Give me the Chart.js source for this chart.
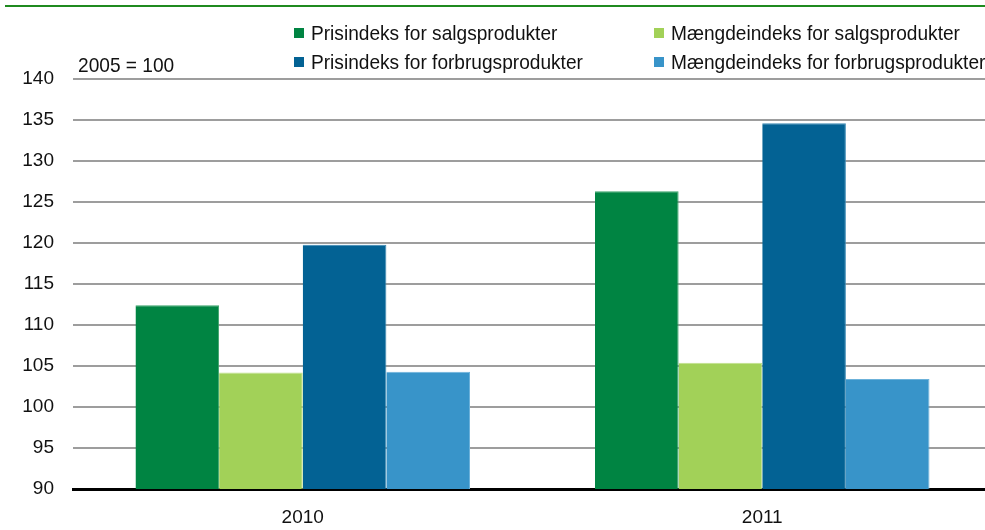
<!DOCTYPE html>
<html>
<head>
<meta charset="utf-8">
<script src="https://cdn.jsdelivr.net/npm/chart.js@4"></script>
<style>
  html, body { margin:0; padding:0; width:985px; height:530px; overflow:hidden; background:#fff; }
  body { position:relative; font-family:"Liberation Sans",Arial,sans-serif; color:#111; }
  #wrap { position:absolute; left:0; top:0; width:992px; height:530px; }
  #topline { position:absolute; left:5px; top:5px; width:980px; height:2px; background:#1f8a1f; }
  .leg { position:absolute; width:330px; height:24px; }
  .leg span.box { position:absolute; left:-17px; top:7px; width:10px; height:10px; }
  .leg span.txt, #base { position:absolute; left:0; top:0; font-size:21px; line-height:24px; white-space:nowrap; transform:scaleX(0.91); transform-origin:0 50%; }
  #base { left:78px; top:53px; }
</style>
</head>
<body>
<div id="topline"></div>
<div id="wrap"><canvas id="c" width="992" height="530"></canvas></div>
<div id="base">2005 = 100</div>
<div id="legend"></div>
<script>
const categories = ["2010", "2011"];
const seriesNames = [
  "Prisindeks for salgsprodukter",
  "Mængdeindeks for salgsprodukter",
  "Prisindeks for forbrugsprodukter",
  "Mængdeindeks for forbrugsprodukter"
];
const prisSalg = [112.4, 126.3];
const maengdeSalg = [104.2, 105.4];
const prisForbrug = [119.8, 134.6];
const maengdeForbrug = [104.3, 103.4];
const yTicks = [90, 95, 100, 105, 110, 115, 120, 125, 130, 135, 140];

const colors = ["#008442", "#a2d158", "#036294", "#3894c9"];
const borders = ["#3aa36a", "#c0e08c", "#3a88b4", "#6cb2da"];
const values = [prisSalg, maengdeSalg, prisForbrug, maengdeForbrug];

const FONT = "'Liberation Sans',Arial,sans-serif";

const chart = new Chart(document.getElementById('c'), {
  type: 'bar',
  data: {
    labels: categories,
    datasets: seriesNames.map((n, i) => ({
      label: n,
      data: values[i],
      backgroundColor: colors[i],
      borderColor: borders[i],
      borderWidth: {top:1, right:1, left:0, bottom:0},
      borderSkipped: 'bottom',
      categoryPercentage: 0.728,
      barPercentage: 1.0
    }))
  },
  options: {
    responsive: false,
    animation: false,
    devicePixelRatio: 1,
    layout: { padding: { top: 79, left: 0, right: 0, bottom: 0 } },
    plugins: { legend: { display: false }, tooltip: { enabled: false } },
    scales: {
      x: {
        grid: { display: false, drawTicks: false },
        border: { display: true, color: '#000', width: 3 },
        ticks: { color: '#111', font: { family: FONT, size: 19 }, padding: 17 },
        afterFit: s => { s.height = 41; }
      },
      y: {
        min: yTicks[0], max: yTicks[yTicks.length - 1],
        afterBuildTicks: s => { s.ticks = yTicks.map(v => ({ value: v })); },
        grid: { color: '#9d9d9d', lineWidth: 2, drawTicks: false },
        border: { display: false },
        ticks: { color: '#111', font: { family: FONT, size: 19 }, padding: 19 },
        afterFit: s => { s.width = 73; }
      }
    }
  }
});

// HTML legend from the datasets (2 x 2 grid)
const legPos = [[311, 21], [671, 21], [311, 50], [671, 50]];
const legend = document.getElementById('legend');
chart.data.datasets.forEach((d, i) => {
  const el = document.createElement('div');
  el.className = 'leg';
  el.style.left = legPos[i][0] + 'px';
  el.style.top = legPos[i][1] + 'px';
  const b = document.createElement('span');
  b.className = 'box';
  b.style.background = d.backgroundColor;
  const t = document.createElement('span');
  t.className = 'txt';
  t.textContent = d.label;
  el.appendChild(b);
  el.appendChild(t);
  legend.appendChild(el);
});
</script>
</body>
</html>
